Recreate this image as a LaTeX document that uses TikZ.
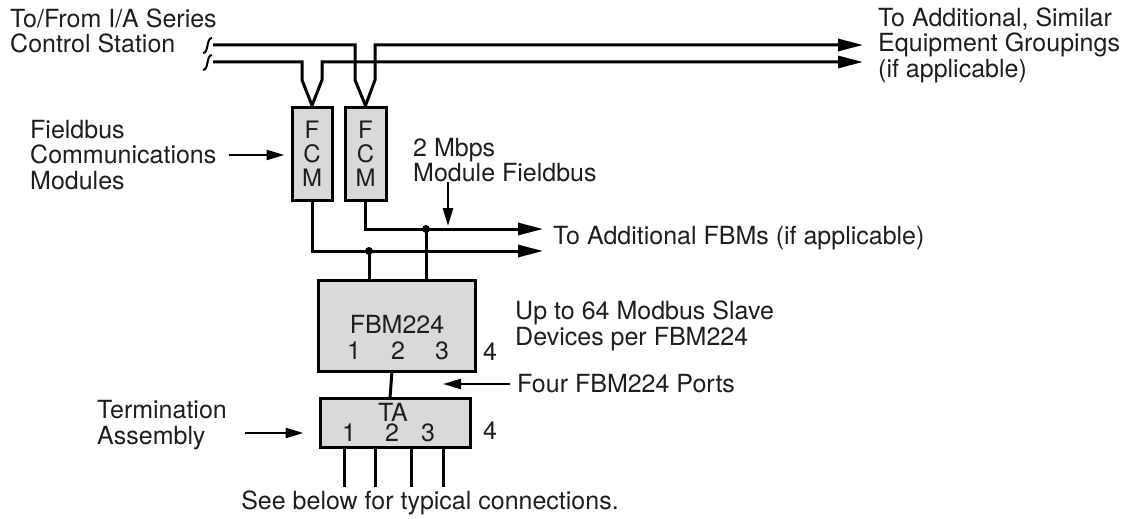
\documentclass[tikz,border=0pt]{standalone}
\usepackage{fontspec}
\setmainfont{TeX Gyre Heros}
\usetikzlibrary{arrows.meta, positioning, calc, backgrounds}
\definecolor{colBox}{RGB}{217, 217, 217}
\definecolor{colText}{RGB}{30, 30, 30}

\tikzset{
    bus/.style={line width=3pt},
    busarrow/.style={bus, -{Triangle[length=25pt, width=12pt]}},
    callout/.style={line width=2.5pt, -{Triangle[length=18pt, width=10pt]}},
    unitbox/.style={draw, line width=3pt, fill=colBox, inner sep=0pt},
    fcmbox/.style={unitbox, minimum width=40, minimum height=93, align=center,
                   font=\fontsize{24}{24}\selectfont, text=colText},
    lbl/.style={font=\fontsize{25}{25.5}\selectfont, align=left, anchor=west, inner sep=0pt, text=colText},
    num/.style={font=\fontsize{25}{25}\selectfont, inner sep=0pt, text=colText},
    joint/.style={circle, fill, inner sep=0pt, minimum size=8pt}
}

\begin{document}
\begin{tikzpicture}[x=1pt, y=-1pt]
    \useasboundingbox (0, 0) rectangle (1133, 519);

    % --- Labels ---
    \node[lbl] (station) at (10, 31) {To/From I/A Series\\Control Station};
    \node[lbl] (equip) at (878, 45) {To Additional, Similar\\Equipment Groupings\\(if applicable)};
    \node[lbl] (fcmLbl) at (30, 155) {Fieldbus\\Communications\\Modules};
    \node[lbl] (mfbLbl) at (413, 160) {2 Mbps\\Module Fieldbus};
    \node[lbl] (fbmMore) at (553, 238) {To Additional FBMs (if applicable)};
    \node[lbl] (slave) at (515, 326) {Up to 64 Modbus Slave\\Devices per FBM224};
    \node[lbl] (portLbl) at (517, 384) {Four FBM224 Ports};
    \node[lbl] (taLbl) at (97, 425) {Termination\\Assembly};
    \node[lbl, anchor=center] (seeBelow) at (430, 503) {See below for typical connections.};

    % --- FCM Modules ---
    \node[fcmbox] (fcmA) at (312, 153.5) {F\\C\\M};
    \node[fcmbox, minimum width=41] (fcmB) at (365.5, 153.5) {F\\C\\M};

    % --- Control Station Bus ---
    \coordinate (upStart) at (213, 45);
    \coordinate (loStart) at (213, 62);
    \coordinate (upEnd) at (863, 45);
    \coordinate (loEnd) at (863, 62);
    % break marks
    \foreach \y in {45, 62} {
        \draw[line width=2pt] (203, \y+8) .. controls (209, \y+8) and (206, \y-7) .. (212, \y-7);
    }
    \begin{scope}[on background layer]
        \draw[busarrow] (loStart) -- (302, 62) -- (302, 80) -- (fcmA.north)
            -- (322, 80) -- (322, 62) -- (loEnd);
        \draw[busarrow] (upStart) -- (355, 45) -- (355, 80) -- (fcmB.north)
            -- (375, 80) -- (375, 45) -- (upEnd);
    \end{scope}

    % --- Module Fieldbus ---
    \coordinate (mfbUp) at (543, 229);
    \coordinate (mfbLo) at (543, 251);
    \draw[busarrow] (fcmA.south) |- (mfbLo);
    \draw[busarrow] (fcmB.south) |- (mfbUp);
    \node[joint] (tapA) at (369, 251) {};
    \node[joint] (tapB) at (426, 229) {};

    % --- FBM224 ---
    \node[unitbox, minimum width=157, minimum height=91] (fbm) at (396.5, 325.5) {};
    \draw[bus] (tapA.center) -- (tapA |- fbm.north);
    \draw[bus] (tapB.center) -- (tapB |- fbm.north);
    \node[num] (fbmName) at (397, 324) {FBM224};
    \foreach \n/\x in {1/354, 2/398, 3/442} {
        \node[num] (fbmP\n) at (\x, 351) {\n};
    }
    \node[num] (fbmP4) at (490, 352) {4};

    % --- Termination Assembly ---
    \node[unitbox, minimum width=150, minimum height=49] (ta) at (395, 422.5) {};
    \node[num] (taName) at (393, 412) {TA};
    \foreach \n/\x in {1/349, 2/392, 3/428} {
        \node[num] (taP\n) at (\x, 433) {\n};
    }
    \node[num] (taP4) at (490, 431) {4};
    \coordinate (linkTop) at (392, 371);
    \coordinate (linkBot) at (390, 398);
    \draw[bus] (linkTop) -- (linkBot);
    % field wiring
    \foreach \x in {344, 375, 411, 443} {
        \draw[bus] (\x, 447) -- (\x, 487);
    }

    % --- Callout Arrows ---
    \coordinate (mfbTip) at (448, 226);
    \coordinate (portTip) at (443, 384);
    \draw[callout, shorten <=12pt, shorten >=6pt] (fcmLbl.east) -- (fcmLbl.east -| fcmA.west);
    \draw[callout] (mfbLbl.south -| mfbTip) -- (mfbTip);
    \draw[callout, shorten <=7pt] (portLbl.west) -- (portTip);
    \draw[callout, shorten <=18pt, shorten >=15pt] (taLbl.east |- taP1) -- (ta.west |- taP1);

\end{tikzpicture}
\end{document}
